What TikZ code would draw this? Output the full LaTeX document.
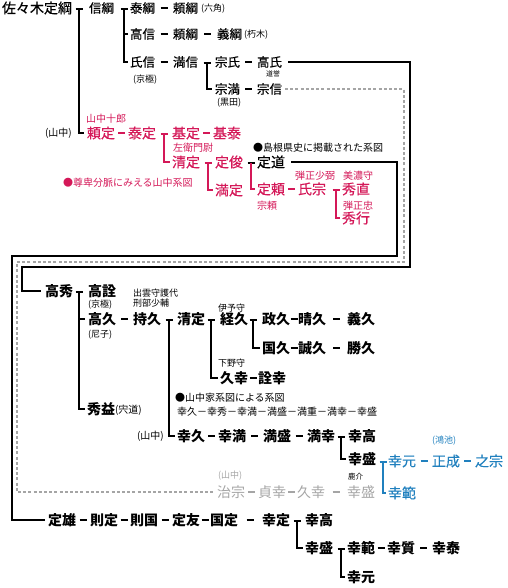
\documentclass[tikz,border=0pt]{standalone}
\usepackage{fontspec}
\setmainfont{Noto Sans CJK JP}
\newfontfamily\jpmed{Noto Sans CJK JP}[FakeBold=0.45]
\usetikzlibrary{calc}
\definecolor{jred}{RGB}{212,24,88}
\definecolor{jblue}{RGB}{32,128,190}
\definecolor{jgray}{RGB}{165,165,165}
\tikzset{
 base/.style={anchor=west, inner sep=0pt, outer sep=0pt},
 topn/.style={base, font=\jpmed\fontsize{12.5}{12.5}\selectfont, text height=11pt, text depth=1.5pt},
 bign/.style={base, font=\jpmed\fontsize{14}{14}\selectfont, text height=12.3pt, text depth=1.7pt},
 greyn/.style={base, font=\fontsize{14}{14}\selectfont, text height=12.3pt, text depth=1.7pt, text=jgray},
 boldn/.style={base, font=\fontsize{14}{14}\selectfont\bfseries, text height=12.3pt, text depth=1.7pt},
 notel/.style={base, font=\fontsize{10}{10}\selectfont},
 notes/.style={base, font=\fontsize{9}{9}\selectfont},
 notet/.style={base, font=\fontsize{7}{7}\selectfont},
 ln/.style={line width=2.1pt},
 fr/.style={line width=2.3pt},
 gdash/.style={jgray, line width=1.8pt, dash pattern=on 3pt off 2.2pt},
}
\newcommand{\dsh}[3][black]{\draw[ln,#1] ($(#2.east)!0.5!(#3.west)+(-3.5,0)$) -- ++(7,0);}
\newcommand{\teebar}[3][black]{\draw[ln,#1] (#2-3.5,#3) -- (#2+3.5,#3);}
\begin{document}
\begin{tikzpicture}[x=1pt,y=-1pt]
\useasboundingbox (0,0) rectangle (507,588);
% ---------- top section
\node[base, font=\jpmed\fontsize{14}{14}\selectfont, text height=12.3pt, text depth=1.7pt] (sasaki) at (2,8) {佐々木定綱};
\node[topn] (nobutsuna) at (89,8) {信綱};
\node[topn] (yasutsuna) at (130,8) {泰綱};
\node[topn] (yoritsunaA) at (173,8) {頼綱};
\node[notes] (rokkaku) at (201,9) {(六角)};
\node[topn] (takanobu) at (130,34) {高信};
\node[topn] (yoritsunaB) at (173,34) {頼綱};
\node[topn] (yoshitsuna) at (217,34) {義綱};
\node[notes] (kutsuki) at (244,35) {(朽木)};
\node[topn] (ujinobu) at (130,62) {氏信};
\node[notes] (kyogokuA) at (133,80) {(京極)};
\node[topn] (mitsunobu) at (173,62) {満信};
\node[topn] (muneuji) at (215,62) {宗氏};
\node[topn] (takauji) at (257,62) {高氏};
\node[notet] (doyo) at (266,74) {道誉};
\node[topn] (munemitsu) at (215,89) {宗満};
\node[notes] (kuroda) at (217,103) {(黒田)};
\node[topn] (munenobu) at (257,89) {宗信};
\dsh{yasutsuna}{yoritsunaA}
\dsh{takanobu}{yoritsunaB}
\dsh{yoritsunaB}{yoshitsuna}
\dsh{ujinobu}{mitsunobu}
\dsh{muneuji}{takauji}
\dsh{munemitsu}{munenobu}
\teebar{79}{9}
\teebar{124}{9}
\draw[ln] (124,9) |- ([xshift=-2pt]ujinobu.west);
\draw[ln] (124,34) -- ([xshift=-2pt]takanobu.west);
\teebar{207}{63}
\draw[ln] (207,63) |- ([xshift=-3pt]munemitsu.west);
% ---------- red section
\node[notel] (yamanakaA) at (45,133) {(山中)};
\node[notel, text=jred] (juro) at (86,119) {山中十郎};
\node[bign, text=jred] (yorisada) at (87,133) {頼定};
\node[bign, text=jred] (yasusada) at (128,133) {泰定};
\node[bign, text=jred] (motosada) at (172,133) {基定};
\node[bign, text=jred] (motoyasu) at (213,133) {基泰};
\node[notel, text=jred] (saemon) at (173,148) {左衛門尉};
\node[bign, text=jred] (kiyosada) at (172,162) {清定};
\node[bign, text=jred] (sadatoshi) at (215,162) {定俊};
\node[bign, text=jred] (mitsusada) at (215,190) {満定};
\node[notel, text=jred] (sonpi) at (63,183) {●尊卑分脈にみえる山中系図};
\node[notel] (shimane) at (253,148) {●島根県史に掲載された系図};
\node[bign] (sadamichi) at (257,162) {定道};
\node[bign, text=jred] (sadayori) at (257,189) {定頼};
\node[notel, text=jred] (muneyori) at (257,206) {宗頼};
\node[notel, text=jred] (danjoA) at (295,176) {弾正少弼};
\node[bign, text=jred] (ujimune) at (298,189) {氏宗};
\node[notel, text=jred] (mino) at (343,176) {美濃守};
\node[bign, text=jred] (hidenao) at (342,189) {秀直};
\node[notel, text=jred] (danjoB) at (343,206) {弾正忠};
\node[bign, text=jred] (hideyuki) at (342,218) {秀行};
\draw[ln] (79,9) |- ([xshift=-3pt]yorisada.west);
\dsh[jred]{yorisada}{yasusada}
\dsh[jred]{motosada}{motoyasu}
\dsh[jred]{sadayori}{ujimune}
\teebar[jred]{164}{134}
\draw[ln,jred] (164,134) |- ([xshift=-2pt]kiyosada.west);
\teebar[jred]{208}{163}
\draw[ln,jred] (208,163) |- ([xshift=-2pt]mitsusada.west);
\teebar{251}{163}
\draw[ln,jred] (251,163) |- ([xshift=-2pt]sadayori.west);
\teebar[jred]{336}{190}
\draw[ln,jred] (336,190) |- ([xshift=-2pt]hideyuki.west);
% ---------- lower section
\node[boldn] (takahide) at (45,291) {高秀};
\node[boldn] (takanori) at (88,291) {高詮};
\node[notes] (kyogokuB) at (88,305) {(京極)};
\node[boldn] (takahisa) at (88,319) {高久};
\node[notes] (amago) at (88,335) {(尼子)};
\node[notes] (izumo) at (133,293) {出雲守護代};
\node[notes] (gyobu) at (133,303) {刑部少輔};
\node[boldn] (mochihisa) at (133,319) {持久};
\node[boldn] (kiyosadaB) at (177,319) {清定};
\node[notes] (iyo) at (218,308) {伊予守};
\node[boldn] (tsunehisa) at (220,319) {経久};
\node[boldn] (masahisa) at (262,319) {政久};
\node[boldn] (haruhisa) at (298,319) {晴久};
\node[boldn] (yoshihisa) at (347,319) {義久};
\node[boldn] (kunihisa) at (262,348) {国久};
\node[boldn] (nobuhisa) at (298,348) {誠久};
\node[boldn] (katsuhisa) at (347,348) {勝久};
\node[notes] (shimotsuke) at (218,363) {下野守};
\node[boldn] (hisayuki) at (220,378) {久幸};
\node[boldn] (akiyuki) at (258,378) {詮幸};
\node[boldn] (hidemasu) at (87,409) {秀益};
\node[notel] (shishido) at (115,410) {(宍道)};
\node[notel] (yamanote) at (175,398) {●山中家系図による系図};
\node[notel] (chain) at (177,412) {幸久－幸秀－幸満－満盛－満重－満幸－幸盛};
\node[notel] (yamanakaB) at (137,436) {(山中)};
\node[boldn] (yukihisa) at (177,436) {幸久};
\node[boldn] (yukimitsu) at (218,436) {幸満};
\node[boldn] (mitsumori) at (263,436) {満盛};
\node[boldn] (mitsuyuki) at (307,436) {満幸};
\node[boldn] (yukitaka) at (348,436) {幸高};
\node[boldn] (yukimori) at (348,459) {幸盛};
\node[notet, font=\fontsize{7.5}{7.5}\selectfont] (shika) at (348,477) {鹿介};
\node[bign, text=jblue] (yukimoto) at (388,461) {幸元};
\node[notes, text=jblue] (konoike) at (432,441) {(鴻池)};
\node[bign, text=jblue] (masanari) at (432,461) {正成};
\node[bign, text=jblue] (koremune) at (475,461) {之宗};
\node[bign, text=jblue] (yukinori) at (388,493) {幸範};
\node[notes, text=jgray] (yamanakaC) at (218,476) {(山中)};
\node[greyn] (harumune) at (217,492) {治宗};
\node[greyn] (sadayuki) at (258,492) {貞幸};
\node[greyn] (hisayukiB) at (297,492) {久幸};
\node[greyn] (yukimoriB) at (347,492) {幸盛};
\teebar{79}{292}
\draw[ln] (79,292) |- ([xshift=-2pt]hidemasu.west);
\draw[ln] (79,319) -- ([xshift=-3pt]takahisa.west);
\dsh{takahisa}{mochihisa}
\teebar{169}{320}
\draw[ln] (169,320) |- ([xshift=-2pt]yukihisa.west);
\teebar{211}{320}
\draw[ln] (211,320) |- ([xshift=-2pt]hisayuki.west);
\teebar{253}{320}
\draw[ln] (253,320) |- ([xshift=-2pt]kunihisa.west);
\dsh{masahisa}{haruhisa}
\dsh{haruhisa}{yoshihisa}
\dsh{kunihisa}{nobuhisa}
\dsh{nobuhisa}{katsuhisa}
\dsh{hisayuki}{akiyuki}
\dsh{yukihisa}{yukimitsu}
\dsh{yukimitsu}{mitsumori}
\dsh{mitsumori}{mitsuyuki}
\teebar{341}{437}
\draw[ln] (341,437) |- ([xshift=-2pt]yukimori.west);
\teebar[jblue]{383}{462}
\draw[ln,jblue] (383,462) |- ([xshift=-2pt]yukinori.west);
\dsh[jblue]{yukimoto}{masanari}
\dsh[jblue]{masanari}{koremune}
\dsh[jgray]{harumune}{sadayuki}
\dsh[jgray]{sadayuki}{hisayukiB}
\dsh[jgray]{hisayukiB}{yukimoriB}
% ---------- bottom row
\node[boldn] (sadao) at (48,520) {定雄};
\node[boldn] (norisada) at (90,520) {則定};
\node[boldn] (norikuni) at (130,520) {則国};
\node[boldn] (sadatomo) at (172,520) {定友};
\node[boldn] (kunisada) at (210,520) {国定};
\node[boldn] (yukisada) at (262,520) {幸定};
\node[boldn] (yukitakaB) at (305,520) {幸高};
\node[boldn] (yukimoriC) at (305,548) {幸盛};
\node[boldn] (yukinoriB) at (347,548) {幸範};
\node[boldn] (yukitada) at (387,548) {幸質};
\node[boldn] (yukiyasu) at (432,548) {幸泰};
\node[boldn] (yukimotoB) at (347,577) {幸元};
\dsh{sadao}{norisada}
\dsh{norisada}{norikuni}
\dsh{norikuni}{sadatomo}
\dsh{sadatomo}{kunisada}
\dsh{kunisada}{yukisada}
\teebar{297}{521}
\draw[ln] (297,521) |- ([xshift=-2pt]yukimoriC.west);
\teebar{341}{549}
\draw[ln] (341,549) |- ([xshift=-2pt]yukimotoB.west);
\dsh{yukinoriB}{yukitada}
\dsh{yukitada}{yukiyasu}
% ---------- frames
\draw[fr] ([xshift=6pt]takauji.east) -| (410,267) -| (22,291) -- ([xshift=-4pt]takahide.west);
\draw[gdash] ([xshift=3pt]munenobu.east) -| (404,262) -| (17,492) -- ([xshift=-2pt]harumune.west);
\draw[fr] ([xshift=6pt]sadamichi.east) -| (397,256) -| (12,520) -- ([xshift=-3pt]sadao.west);
\end{tikzpicture}
\end{document}
